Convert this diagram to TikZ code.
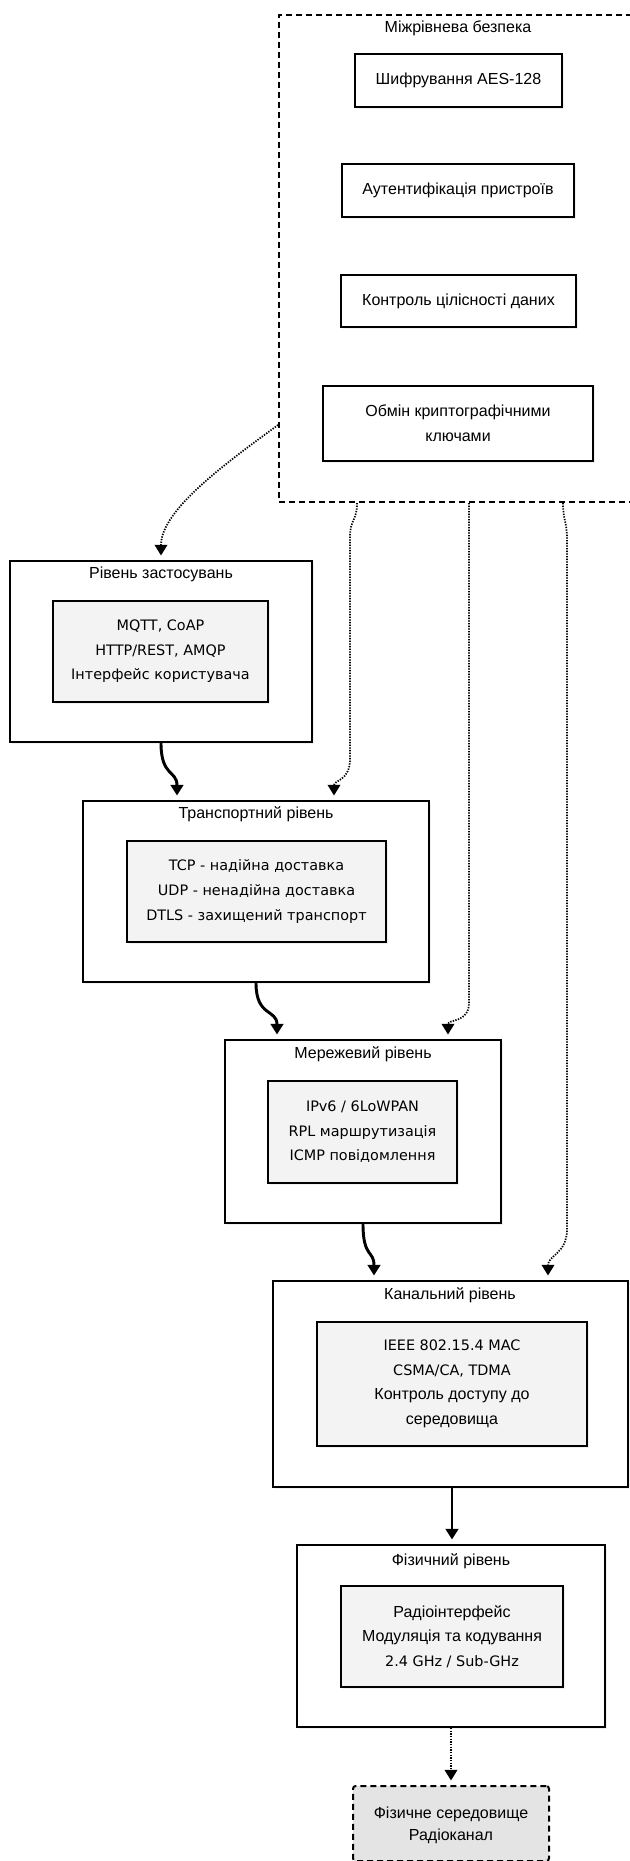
\documentclass[tikz,border=0pt]{standalone}
\usepackage{fontspec}
\setmainfont{Liberation Sans}
\newfontfamily\dvs{DejaVu Sans}
\usetikzlibrary{arrows.meta,fit,shadows,calc}

\definecolor{innerfill}{HTML}{F3F3F3}
\definecolor{mediumfill}{HTML}{E4E4E4}

% line fonts used inside the protocol boxes
\newcommand{\sansline}{\fontsize{12}{18.4}\selectfont\rmfamily}
\newcommand{\verdline}{\fontsize{10.8}{18.4}\selectfont\dvs}

\begin{document}
\begin{tikzpicture}[x=0.75pt,y=-0.75pt,
  framebox/.style={draw=black, inner sep=0pt, fill=white,
    drop shadow={shadow xshift=1.2pt,shadow yshift=-1.2pt,opacity=0.12}},
  layerbox/.style={framebox, line width=1.5pt},
  innerbox/.style={framebox, line width=1.5pt, fill=innerfill},
  secitem/.style={framebox, line width=1.2pt},
  clusterbox/.style={draw=black, line width=1.5pt, inner sep=0pt,
    dash pattern=on 4.5pt off 3pt},
  mediumbox/.style={draw=black, line width=1.5pt, inner sep=0pt, fill=mediumfill,
    dash pattern=on 4.5pt off 3pt, rounded corners=2pt},
  boxtext/.style={inner sep=0pt, align=center, anchor=center},
  sectext/.style={boxtext, font=\fontsize{12}{18.75}\selectfont},
  protext/.style={boxtext, font=\fontsize{10.8}{18.4}\selectfont\dvs},
  medtext/.style={boxtext, font=\fontsize{12}{16.5}\selectfont},
  ttl/.style={anchor=base, inner sep=0pt, font=\fontsize{12}{14}\selectfont},
  flowarrow/.style={line width=2.2pt, -{Triangle[length=8pt,width=9.5pt]},
    shorten >=3.4pt},
  secarrow/.style={line width=1.3pt, dash pattern=on 1pt off 1pt,
    -{Triangle[length=8pt,width=9.5pt]}, shorten >=3.4pt},
]
\useasboundingbox (0,0) rectangle (629,1861);

% cross-layer security block
\node[clusterbox, fit={(279,15) (637,502)}] (sec) {};
\node[ttl] (secT) at (458,32) {Міжрівнева безпека};
\node[secitem, fit={(355,54) (562,107)}] (aes) {};
\node[sectext] (aesT) at (aes.center) {Шифрування AES-128};
\node[secitem, fit={(342,164) (574,217)}] (auth) {};
\node[sectext] (authT) at (auth.center) {Аутентифікація пристроїв};
\node[secitem, fit={(341,275) (576,327)}] (integ) {};
\node[sectext] (integT) at (integ.center) {Контроль цілісності даних};
\node[secitem, fit={(323,386) (593,461)}] (keyx) {};
\node[sectext] (keyxT) at (keyx.center) {Обмін криптографічними\\ключами};

% application layer
\node[layerbox, fit={(10,561) (312,742)}] (app) {};
\node[ttl] (appT) at (161,578) {Рівень застосувань};
\node[innerbox, fit={(53,601) (268,702)}] (appIn) {};
\node[protext] (appTx) at (appIn.center)
  {\verdline MQTT, CoAP\\\verdline HTTP/REST, AMQP\\\verdline Інтерфейс користувача};

% transport layer
\node[layerbox, fit={(83,801) (429,982)}] (trans) {};
\node[ttl] (transT) at (256,818) {Транспортний рівень};
\node[innerbox, fit={(127,841) (386,942)}] (transIn) {};
\node[protext] (transTx) at (transIn.center)
  {\verdline TCP - надійна доставка\\\verdline UDP - ненадійна доставка\\\verdline DTLS - захищений транспорт};

% network layer
\node[layerbox, fit={(225,1040) (501,1223)}] (net) {};
\node[ttl] (netT) at (363,1058) {Мережевий рівень};
\node[innerbox, fit={(268,1081) (457,1183)}] (netIn) {};
\node[protext] (netTx) at (netIn.center)
  {\verdline IPv6 / 6LoWPAN\\\verdline RPL маршрутизація\\\verdline ICMP повідомлення};

% data link layer
\node[layerbox, fit={(273,1281) (628,1487)}] (link) {};
\node[ttl] (linkT) at (450,1299) {Канальний рівень};
\node[innerbox, fit={(317,1322) (587,1446)}] (linkIn) {};
\node[protext] (linkTx) at (linkIn.center)
  {\verdline IEEE 802.15.4 MAC\\\verdline CSMA/CA, TDMA\\\sansline Контроль доступу до\\\sansline середовища};

% physical layer
\node[layerbox, fit={(297,1545) (605,1727)}] (phy) {};
\node[ttl] (phyT) at (451,1565) {Фізичний рівень};
\node[innerbox, fit={(341,1586) (563,1687)}] (phyIn) {};
\node[protext] (phyTx) at (phyIn.center)
  {\sansline Радіоінтерфейс\\\sansline Модуляція та кодування\\\verdline 2.4 GHz / Sub-GHz};

% physical medium
\node[mediumbox, fit={(353,1786) (549,1861)}] (med) {};
\node[medtext] (medT) at ($(med.center)+(0,2)$) {Фізичне середовище\\Радіоканал};

% data flow between layers
\draw[flowarrow] (app.south) .. controls +(0,34) and +(0,-30) .. ($(trans.north west)+(95,0)$);
\draw[flowarrow] (trans.south) .. controls +(0,34) and +(0,-30) .. ($(net.north west)+(53,0)$);
\draw[flowarrow] (net.south) .. controls +(0,34) and +(0,-30) .. ($(link.north west)+(102,0)$);
\draw[flowarrow] ($(link.south west)+(180,0)$) -- ($(phy.north west)+(156,0)$);
\draw[secarrow] (phy.south) -- (med.north);

% security applied to each layer
\draw[secarrow] ($(sec.south west)+(0,-78)$) .. controls +(-52,38) and +(0,-50) .. (app.north);
\draw[secarrow] ($(sec.south west)+(79,0)$) .. controls +(0,18) and +(0,-18) .. ++(-7,34)
  -- ++(0,222) .. controls +(0,22) and +(0,-20) .. ($(trans.north west)+(252,0)$);
\draw[secarrow] ($(sec.south west)+(191,0)$) -- ++(0,500)
  .. controls +(0,20) and +(0,-20) .. ($(net.north west)+(224,0)$);
\draw[secarrow] ($(sec.south west)+(285,0)$) .. controls +(0,18) and +(0,-18) .. ++(4,36)
  -- ++(0,690) .. controls +(0,25) and +(0,-25) .. ($(link.north west)+(276,0)$);
\end{tikzpicture}
\end{document}
